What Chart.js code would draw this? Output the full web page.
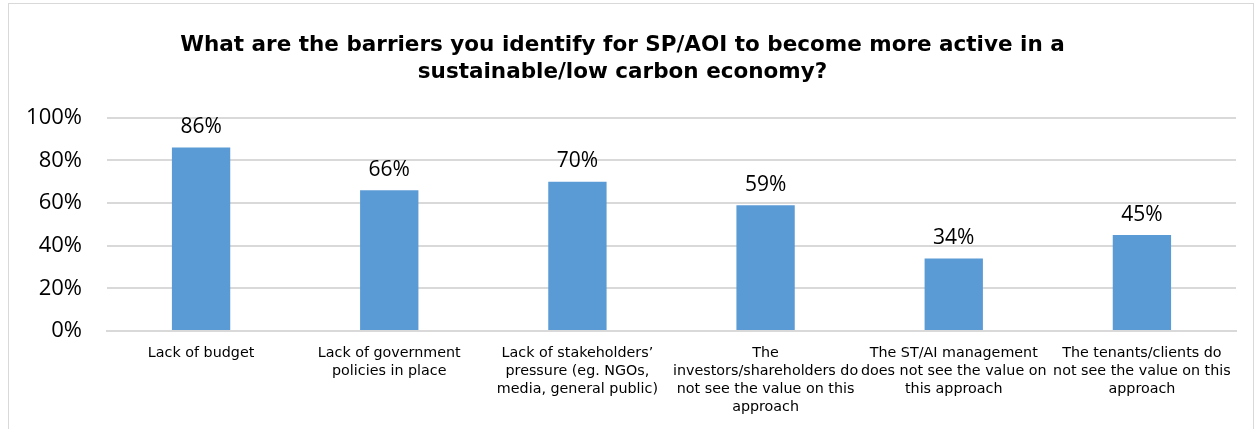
<!DOCTYPE html>
<html>
<head>
<meta charset="utf-8">
<script src="https://cdn.jsdelivr.net/npm/chart.js@4.4.1/dist/chart.umd.min.js"></script>
<style>
  body { margin: 0; background: #fff; }
  #wrap { position: absolute; left: 8px; top: 3px; width: 1244px; height: 426px; border: 1px solid #d9d9d9; border-bottom: none; background: #fff; }
</style>
</head>
<body>
<div id="wrap"><canvas id="mycanvas" width="1244" height="426"></canvas></div>
<script>
var categories = [
    ["Lack of budget"],
    ["Lack of government", "policies in place"],
    ["Lack of stakeholders\u2019", "pressure (eg. NGOs,", "media, general public)"],
    ["The", "investors/shareholders do", "not see the value on this", "approach"],
    ["The ST/AI management", "does not see the value on", "this approach"],
    ["The tenants/clients do", "not see the value on this", "approach"]
];
var barriers = [86, 66, 70, 59, 34, 45];
var yTicks = [0, 20, 40, 60, 80, 100];
var titleLines = ["What are the barriers you identify for SP/AOI to become more active in a", "sustainable/low carbon economy?"];

// draws the % value above each bar
var valueLabels = {
    id: 'valueLabels',
    afterDatasetsDraw: function(chart) {
        var ctx = chart.ctx;
        var meta = chart.getDatasetMeta(0);
        ctx.save();
        ctx.font = '21px "Open Sans"';
        ctx.fillStyle = '#000';
        ctx.textAlign = 'center';
        ctx.textBaseline = 'bottom';
        meta.data.forEach(function(bar, i) {
            ctx.fillText(barriers[i] + '%', bar.x, bar.y - 10);
        });
        ctx.restore();
    }
};

var ctx = document.getElementById('mycanvas');
var barGraph = new Chart(ctx, {
    type: 'bar',
    data: {
        labels: categories,
        datasets: [{
            label: 'Barriers',
            data: barriers,
            backgroundColor: '#5b9bd5',
            borderWidth: 0,
            barPercentage: 0.62,
            categoryPercentage: 0.5
        }]
    },
    options: {
        responsive: false,
        animation: false,
        layout: { padding: { left: 0, right: 17, top: 28, bottom: 0 } },
        plugins: {
            legend: { display: false },
            tooltip: { enabled: false },
            title: {
                display: true,
                text: titleLines,
                color: '#000',
                font: { family: 'DejaVu Sans', weight: 'bold', size: 21.5, lineHeight: 1.25 },
                padding: { top: 0, bottom: 32 }
            }
        },
        scales: {
            x: {
                grid: { display: false, drawTicks: false },
                border: { color: '#d9d9d9', width: 2 },
                ticks: {
                    color: '#000',
                    font: { family: 'DejaVu Sans', size: 14.3, lineHeight: 1.26 },
                    maxRotation: 0,
                    autoSkip: false,
                    padding: 13
                },
                afterFit: function(scale) { scale.height = 99; }
            },
            y: {
                min: 0,
                max: 100,
                afterBuildTicks: function(scale) {
                    scale.ticks = yTicks.map(function(v) { return { value: v }; });
                },
                grid: { color: '#d9d9d9', lineWidth: 2, drawTicks: false },
                border: { display: false },
                ticks: {
                    color: '#000',
                    font: { family: 'Open Sans', size: 22 },
                    padding: 25,
                    callback: function(v) { return v + '%'; }
                },
                afterFit: function(scale) { scale.width = 98; }
            }
        }
    },
    plugins: [valueLabels]
});
</script>
</body>
</html>
